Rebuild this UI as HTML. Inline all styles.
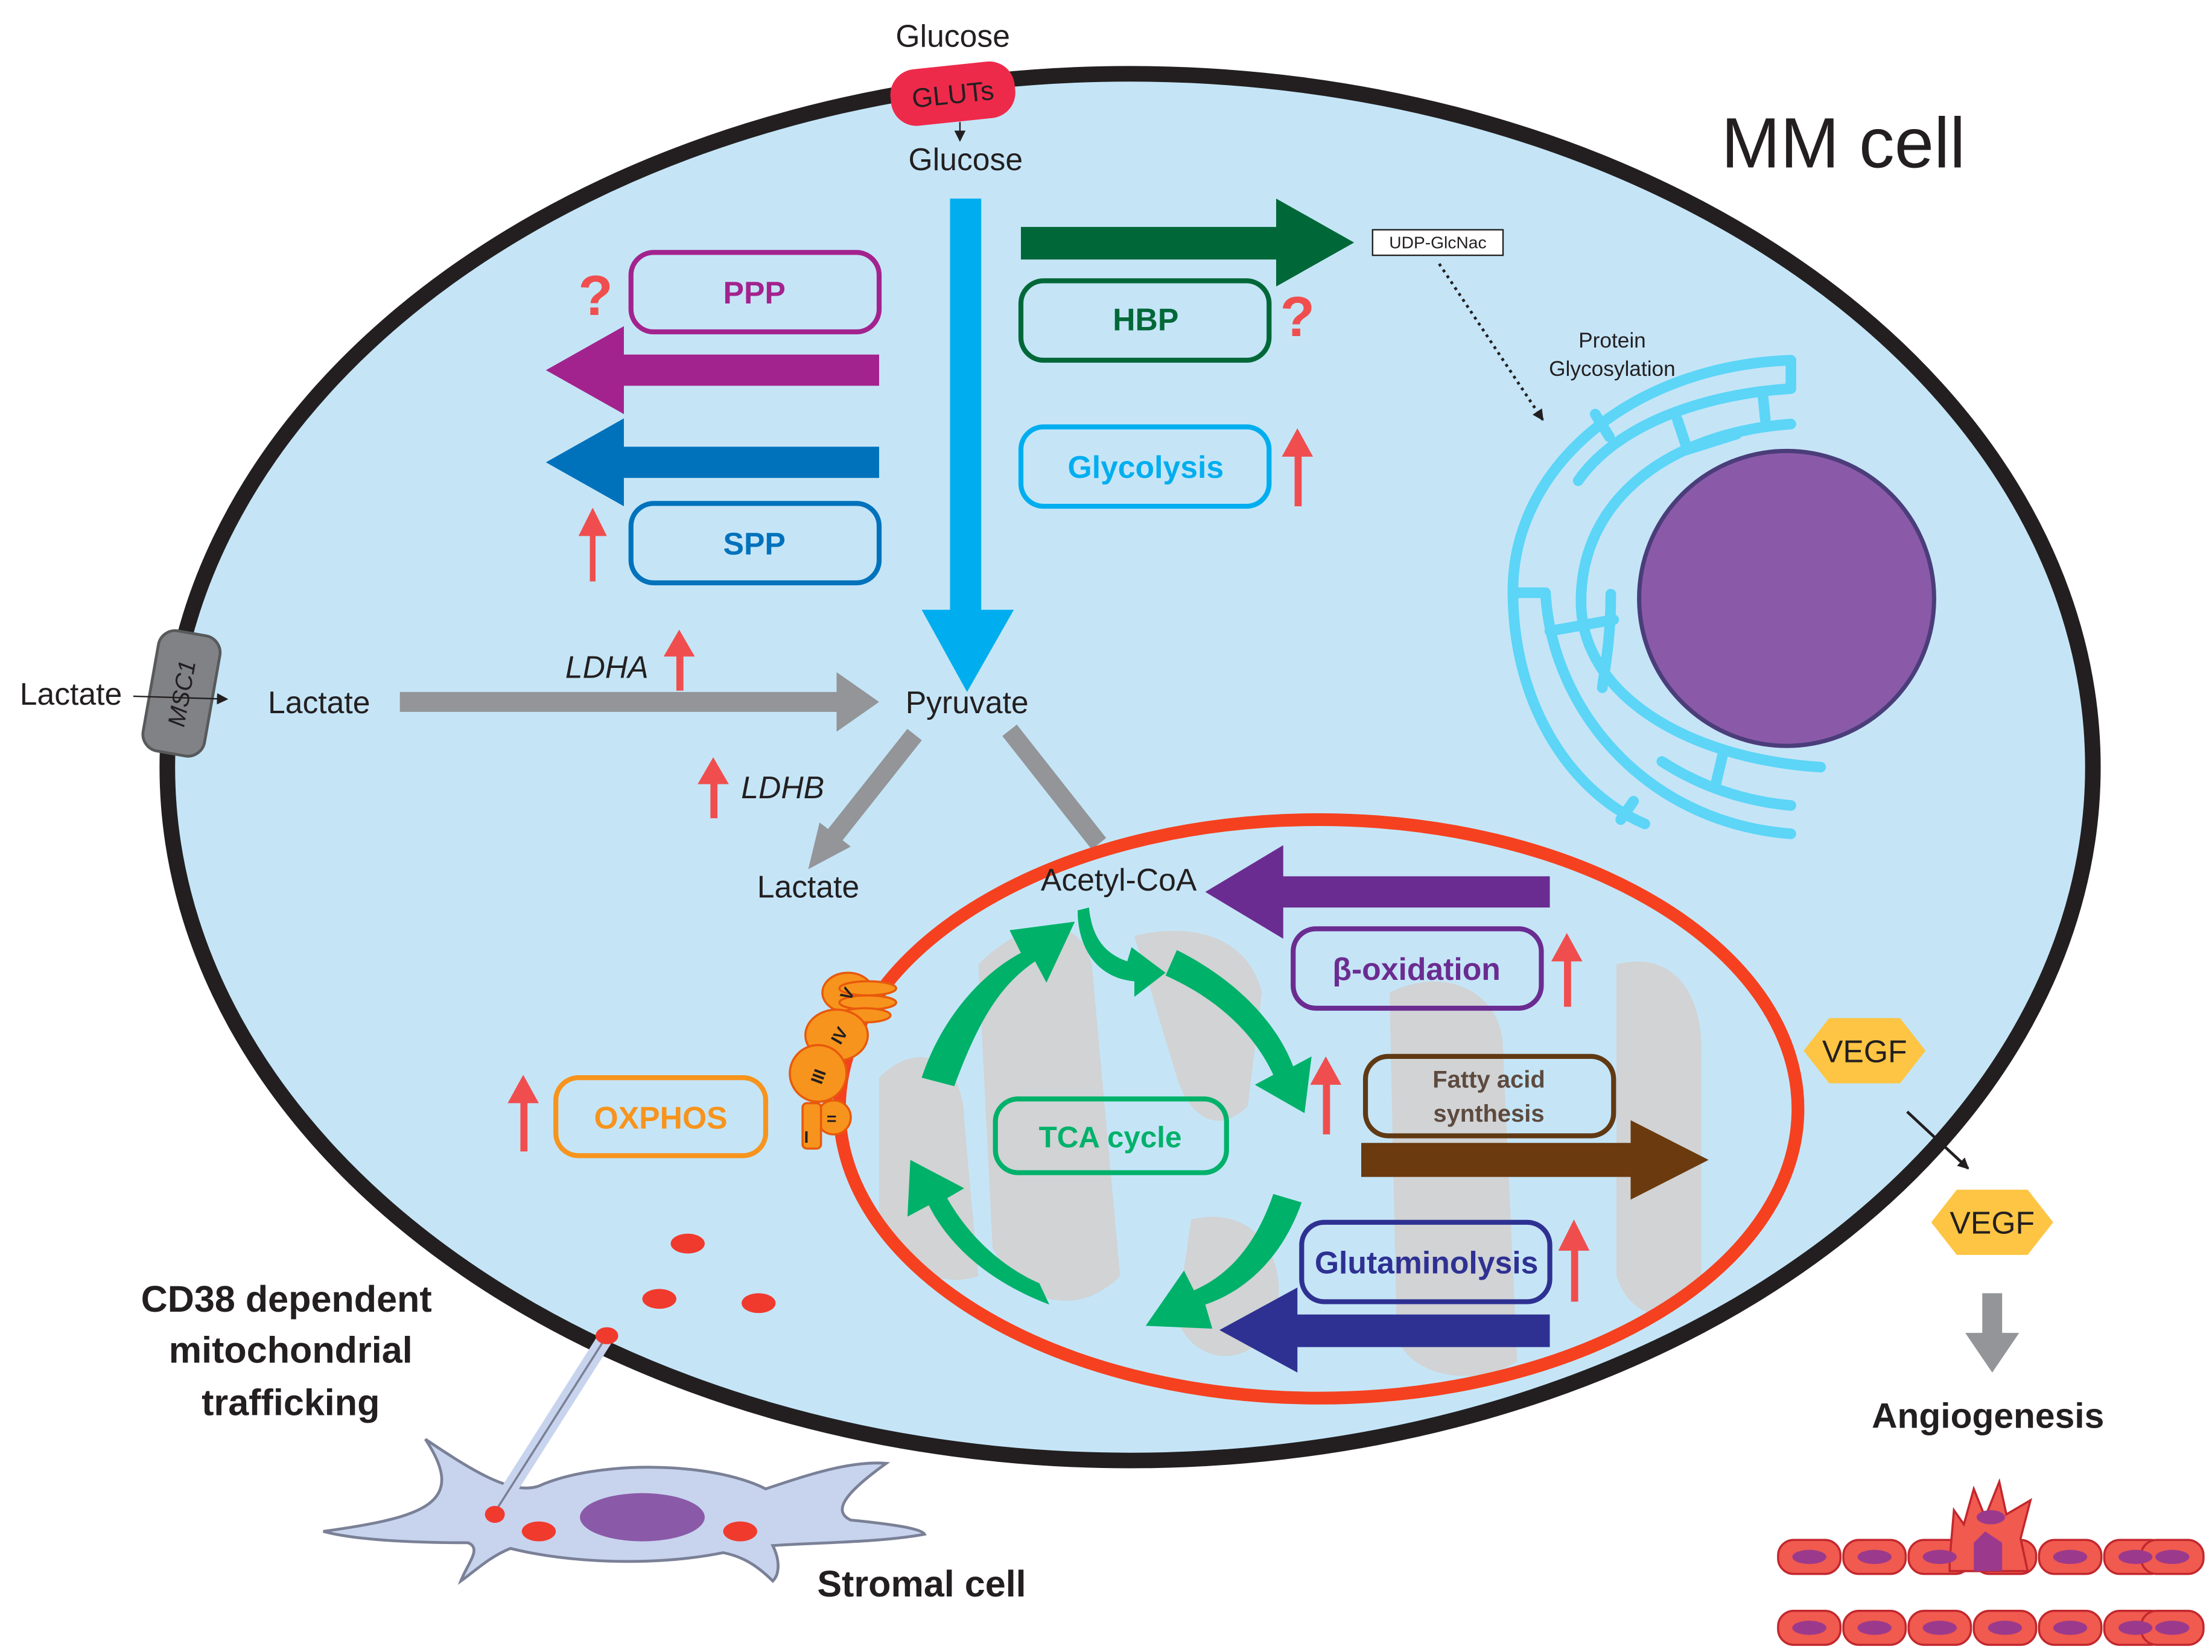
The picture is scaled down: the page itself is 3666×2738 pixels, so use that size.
<!DOCTYPE html>
<html><head><meta charset="utf-8"><style>
html,body{margin:0;padding:0;background:#fff;}
svg{display:block;}
text{font-family:"Liberation Sans",sans-serif;}
</style></head><body>
<svg width="3666" height="2738" viewBox="0 0 1560 1165" xmlns="http://www.w3.org/2000/svg">
<defs>
<marker id="ah" markerWidth="8" markerHeight="8" refX="7" refY="4" orient="auto" markerUnits="userSpaceOnUse"><path d="M0,0 L8,4 L0,8 Z" fill="#231f20"/></marker>
</defs>
<rect width="1560" height="1165" fill="#fff"/>
<ellipse cx="797" cy="541" rx="679" ry="489" fill="#c5e5f7" stroke="#231f20" stroke-width="11"/>
<text x="672" y="33" font-size="22" text-anchor="middle" fill="#231f20">Glucose</text>
<rect x="628" y="46" width="88" height="40" rx="18" fill="#ee2a4b" transform="rotate(-6 672 66)"/>
<text x="672" y="73" font-size="19" text-anchor="middle" fill="#231f20" transform="rotate(-6 672 66)">GLUTs</text>
<line x1="677" y1="86" x2="677" y2="99" stroke="#231f20" stroke-width="1" marker-end="url(#ah)"/>
<text x="681" y="120" font-size="22" text-anchor="middle" fill="#231f20">Glucose</text>
<text x="1300" y="118" font-size="50" text-anchor="middle" fill="#231f20">MM cell</text>
<path d="M670,140 L692,140 L692,430 L715,430 L682,488 L650,430 L670,430 Z" fill="#00aeef"/>
<rect x="445" y="178" width="175" height="56" rx="16" fill="none" stroke="#a3238e" stroke-width="3.5"/>
<text x="532" y="214" font-size="22" font-weight="bold" text-anchor="middle" fill="#a3238e">PPP</text>
<path d="M620,250 L620,272 L440,272 L440,292 L385,261 L440,230 L440,250 Z" fill="#a3238e"/>
<path d="M620,315 L620,337 L440,337 L440,357 L385,326 L440,295 L440,315 Z" fill="#0072bc"/>
<rect x="445" y="355" width="175" height="56" rx="16" fill="none" stroke="#0072bc" stroke-width="3.5"/>
<text x="532" y="391" font-size="22" font-weight="bold" text-anchor="middle" fill="#0072bc">SPP</text>
<text x="420" y="222" font-size="40" font-weight="bold" text-anchor="middle" fill="#f04e4e">?</text>
<text x="915" y="237" font-size="40" font-weight="bold" text-anchor="middle" fill="#f04e4e">?</text>
<path d="M720,160 L900,160 L900,140 L955,171 L900,202 L900,183 L720,183 Z" fill="#006838"/>
<rect x="968" y="162" width="92" height="18" fill="#fff" stroke="#231f20" stroke-width="1"/>
<text x="1014" y="175" font-size="12" text-anchor="middle" fill="#231f20">UDP-GlcNac</text>
<rect x="720" y="198" width="175" height="56" rx="16" fill="none" stroke="#006838" stroke-width="3.5"/>
<text x="808" y="233" font-size="22" font-weight="bold" text-anchor="middle" fill="#006838">HBP</text>
<rect x="720" y="301" width="175" height="56" rx="16" fill="none" stroke="#00aeef" stroke-width="3.5"/>
<text x="808" y="337" font-size="22" font-weight="bold" text-anchor="middle" fill="#00aeef">Glycolysis</text>
<line x1="1015" y1="186" x2="1088" y2="296" stroke="#231f20" stroke-width="2" stroke-dasharray="2,3" marker-end="url(#ah)"/>
<text x="1137" y="245" font-size="15" text-anchor="middle" fill="#231f20">Protein</text>
<text x="1137" y="265" font-size="15" text-anchor="middle" fill="#231f20">Glycosylation</text>
<!-- ER -->
<g fill="none" stroke="#5cd5f7" stroke-width="7.5" stroke-linecap="round">
<path d="M1263,254 C1150,258 1065,330 1067,420 C1068,500 1110,560 1160,581"/>
<path d="M1263,254 L1263,274"/>
<path d="M1263,274 C1200,278 1140,300 1113,339"/>
<path d="M1263,299 C1180,305 1115,350 1115,424 C1115,490 1190,535 1284,541"/>
<path d="M1090,419 C1095,500 1160,580 1263,588"/>
<path d="M1136,419 C1136,450 1132,470 1130,485"/>
<path d="M1172,537 C1200,555 1230,565 1263,568"/>
<path d="M1067,418 L1090,418"/><path d="M1093,445 L1138,437"/><path d="M1125,292 L1135,308"/>
<path d="M1243,276 L1245,296"/><path d="M1183,296 L1190,317 L1225,306"/>
<path d="M1215,532 L1210,553"/><path d="M1152,565 L1143,578"/>
</g>
<circle cx="1260" cy="422" r="104" fill="#8a5aa8" stroke="#4b3d7a" stroke-width="3"/>
<text x="50" y="497" font-size="22" text-anchor="middle" fill="#231f20">Lactate</text>
<rect x="106" y="446" width="44" height="86" rx="12" fill="#808285" stroke="#58595b" stroke-width="2" transform="rotate(10 128 489)"/>
<text x="128" y="495" font-size="17" font-style="italic" text-anchor="middle" fill="#231f20" transform="rotate(-80 128 489)">MSC1</text>
<line x1="94" y1="491" x2="160" y2="493" stroke="#231f20" stroke-width="1" marker-end="url(#ah)"/>
<text x="225" y="503" font-size="22" text-anchor="middle" fill="#231f20">Lactate</text>
<path d="M282,488 L590,488 L590,474 L620,495 L590,516 L590,502 L282,502 Z" fill="#939598"/>
<text x="428" y="478" font-size="22" font-style="italic" text-anchor="middle" fill="#231f20">LDHA</text>
<text x="682" y="503" font-size="22" text-anchor="middle" fill="#231f20">Pyruvate</text>
<line x1="645" y1="518" x2="588" y2="590" stroke="#939598" stroke-width="13"/>
<path d="M570,613 L578,580 L600,597 Z" fill="#939598"/>
<line x1="712" y1="515" x2="775" y2="595" stroke="#939598" stroke-width="13"/>
<text x="552" y="563" font-size="22" font-style="italic" text-anchor="middle" fill="#231f20">LDHB</text>
<text x="570" y="633" font-size="22" text-anchor="middle" fill="#231f20">Lactate</text>
<ellipse cx="930" cy="782" rx="338" ry="204" fill="#c5e5f7"/>
<g fill="#d1d3d5">
<path d="M690,680 C720,650 760,640 770,680 L790,900 C760,930 720,920 700,880 Z"/>
<path d="M800,660 C840,650 880,660 890,700 L880,780 C860,800 840,790 830,760 Z"/>
<path d="M840,860 C880,850 910,880 900,930 C880,970 840,960 830,930 Z"/>
<path d="M1140,680 C1180,670 1200,700 1200,740 L1200,900 C1180,940 1150,930 1140,900 Z"/>
<path d="M980,700 C1020,680 1060,700 1060,740 L1070,960 C1040,980 990,970 985,940 Z"/>
<path d="M620,760 C650,730 680,750 680,790 L690,900 C660,910 630,890 620,860 Z"/>
</g>
<ellipse cx="930" cy="782" rx="338" ry="204" fill="none" stroke="#f5411f" stroke-width="9"/>
<text x="789" y="628" font-size="22" text-anchor="middle" fill="#231f20">Acetyl-CoA</text>
<path d="M1093,618 L1093,640 L905,640 L905,662 L850,629 L905,596 L905,618 Z" fill="#6b2c91"/>
<rect x="912" y="655" width="175" height="56" rx="16" fill="none" stroke="#6b2c91" stroke-width="3.5"/>
<text x="999" y="691" font-size="22" font-weight="bold" text-anchor="middle" fill="#6b2c91">β-oxidation</text>
<rect x="963" y="745" width="175" height="56" rx="16" fill="none" stroke="#603913" stroke-width="3.5"/>
<text x="1050" y="767" font-size="17" font-weight="bold" text-anchor="middle" fill="#5d4a3f">Fatty acid</text>
<text x="1050" y="791" font-size="17" font-weight="bold" text-anchor="middle" fill="#5d4a3f">synthesis</text>
<path d="M960,806 L1150,806 L1150,790 L1205,818 L1150,846 L1150,830 L960,830 Z" fill="#6b3a0e"/>
<rect x="918" y="862" width="175" height="56" rx="16" fill="none" stroke="#2e3192" stroke-width="3.5"/>
<text x="1006" y="898" font-size="22" font-weight="bold" text-anchor="middle" fill="#2e3192">Glutaminolysis</text>
<path d="M1093,927 L1093,950 L915,950 L915,968 L860,938 L915,908 L915,927 Z" fill="#2e3192"/>
<rect x="702" y="775" width="163" height="52" rx="16" fill="none" stroke="#00b16a" stroke-width="3.5"/>
<text x="783" y="809" font-size="21" font-weight="bold" text-anchor="middle" fill="#00b16a">TCA cycle</text>
<g fill="#00b16a">
<path d="M650,760 C665,715 695,685 720,672 L712,656 L758,650 L738,693 L730,678 C705,695 690,720 673,766 Z"/>
<path d="M830,670 C870,690 900,720 912,752 L925,745 L920,785 L885,765 L898,758 C885,730 860,705 822,688 Z"/>
<path d="M918,848 C905,885 880,910 850,920 L855,937 L808,935 L835,896 L842,910 C865,900 885,880 898,842 Z"/>
<path d="M740,920 C700,905 670,880 655,850 L640,858 L642,818 L680,838 L668,845 C685,875 710,895 733,905 Z"/>
<path d="M768,640 C770,660 778,672 795,678 L798,668 L822,686 L800,703 L800,692 C775,690 760,670 760,642 Z"/>
</g>
<rect x="392" y="760" width="148" height="55" rx="16" fill="none" stroke="#f7941d" stroke-width="3.5"/>
<text x="466" y="796" font-size="22" font-weight="bold" text-anchor="middle" fill="#f7941d">OXPHOS</text>
<g fill="#f7941d" stroke="#e8590c" stroke-width="1.5">
<ellipse cx="598" cy="700" rx="18" ry="14"/>
<ellipse cx="612" cy="697" rx="20" ry="5"/><ellipse cx="612" cy="707" rx="20" ry="5"/><ellipse cx="610" cy="716" rx="18" ry="5"/>
<ellipse cx="590" cy="730" rx="22" ry="18"/>
<ellipse cx="577" cy="757" rx="20" ry="20"/>
<ellipse cx="588" cy="788" rx="12" ry="12"/>
<rect x="566" y="778" width="13" height="32" rx="3"/>
</g>
<g font-size="12" fill="#231f20" font-weight="bold">
<text x="592" y="706" transform="rotate(-60 596 700)">V</text>
<text x="585" y="736" transform="rotate(-60 590 730)">IV</text>
<text x="570" y="762" transform="rotate(-70 577 757)">III</text>
<text x="583" y="793">=</text>
<text x="567" y="806">I</text>
</g>
<g fill="#f04e4e">
<path d="M416,410 L420,410 L420,378 L428,378 L418,358 L408,378 L416,378 Z"/>
<path d="M913,357 L918,357 L918,322 L926,322 L915,302 L904,322 L913,322 Z"/>
<path d="M477,487 L482,487 L482,463 L490,463 L479,444 L468,463 L477,463 Z"/>
<path d="M501,577 L506,577 L506,553 L514,553 L503,534 L492,553 L501,553 Z"/>
<path d="M367,812 L372,812 L372,778 L380,778 L369,758 L358,778 L367,778 Z"/>
<path d="M933,800 L938,800 L938,765 L946,765 L935,745 L924,765 L933,765 Z"/>
<path d="M1103,710 L1108,710 L1108,678 L1116,678 L1105,658 L1094,678 L1103,678 Z"/>
<path d="M1108,918 L1113,918 L1113,882 L1121,882 L1110,860 L1099,882 L1108,882 Z"/>
</g>
<path d="M1272,741 L1290,718 L1340,718 L1358,741 L1340,764 L1290,764 Z" fill="#fdc543"/>
<text x="1315" y="749" font-size="22" text-anchor="middle" fill="#231f20">VEGF</text>
<line x1="1345" y1="784" x2="1388" y2="824" stroke="#231f20" stroke-width="2" marker-end="url(#ah)"/>
<path d="M1362,862 L1380,839 L1430,839 L1448,862 L1430,885 L1380,885 Z" fill="#fdc543"/>
<text x="1405" y="870" font-size="22" text-anchor="middle" fill="#231f20">VEGF</text>
<path d="M1398,912 L1412,912 L1412,940 L1424,940 L1405,968 L1386,940 L1398,940 Z" fill="#939598"/>
<text x="1402" y="1007" font-size="25" font-weight="bold" text-anchor="middle" fill="#231f20">Angiogenesis</text>
<g fill="#f05a4f" stroke="#c2272d" stroke-width="1.5">
<rect x="1254" y="1086" width="44" height="24" rx="11"/><rect x="1300" y="1086" width="44" height="24" rx="11"/><rect x="1346" y="1086" width="44" height="24" rx="11"/><rect x="1392" y="1086" width="44" height="24" rx="11"/><rect x="1438" y="1086" width="44" height="24" rx="11"/><rect x="1484" y="1086" width="44" height="24" rx="11"/><rect x="1510" y="1086" width="44" height="24" rx="11"/>
<rect x="1254" y="1136" width="44" height="24" rx="11"/><rect x="1300" y="1136" width="44" height="24" rx="11"/><rect x="1346" y="1136" width="44" height="24" rx="11"/><rect x="1392" y="1136" width="44" height="24" rx="11"/><rect x="1438" y="1136" width="44" height="24" rx="11"/><rect x="1484" y="1136" width="44" height="24" rx="11"/><rect x="1510" y="1136" width="44" height="24" rx="11"/>
<path d="M1375,1100 L1378,1065 L1385,1075 L1392,1050 L1400,1070 L1410,1045 L1415,1068 L1432,1058 L1425,1085 L1430,1108 L1375,1108 Z"/>
</g>
<g fill="#9b3a8c">
<ellipse cx="1276" cy="1098" rx="12" ry="5"/><ellipse cx="1322" cy="1098" rx="12" ry="5"/><ellipse cx="1368" cy="1098" rx="12" ry="5"/><ellipse cx="1460" cy="1098" rx="12" ry="5"/><ellipse cx="1506" cy="1098" rx="12" ry="5"/><ellipse cx="1532" cy="1098" rx="12" ry="5"/>
<ellipse cx="1276" cy="1148" rx="12" ry="5"/><ellipse cx="1322" cy="1148" rx="12" ry="5"/><ellipse cx="1368" cy="1148" rx="12" ry="5"/><ellipse cx="1414" cy="1148" rx="12" ry="5"/><ellipse cx="1460" cy="1148" rx="12" ry="5"/><ellipse cx="1506" cy="1148" rx="12" ry="5"/><ellipse cx="1532" cy="1148" rx="12" ry="5"/>
<ellipse cx="1404" cy="1070" rx="10" ry="5"/><path d="M1392,1108 L1392,1088 L1400,1080 L1412,1088 L1412,1108 Z"/>
</g>
<g fill="#f03a2e"><ellipse cx="485" cy="877" rx="12" ry="7"/><ellipse cx="465" cy="916" rx="12" ry="7"/><ellipse cx="535" cy="919" rx="12" ry="7"/></g>
<text x="202" y="925" font-size="26" font-weight="bold" text-anchor="middle" fill="#231f20">CD38 dependent</text>
<text x="205" y="961" font-size="26" font-weight="bold" text-anchor="middle" fill="#231f20">mitochondrial</text>
<text x="205" y="998" font-size="26" font-weight="bold" text-anchor="middle" fill="#231f20">trafficking</text>
<path d="M228,1080 C300,1070 330,1060 300,1015 C330,1035 360,1055 380,1048 C420,1030 500,1030 540,1050 C570,1040 600,1030 625,1032 C600,1050 585,1065 600,1072 C630,1075 650,1078 652,1082 C620,1088 570,1088 545,1090 C550,1100 550,1110 545,1115 C535,1105 525,1098 510,1095 C460,1105 400,1102 360,1092 C345,1098 335,1108 325,1115 C330,1102 340,1092 330,1088 C290,1088 250,1086 228,1080 Z" fill="#c8d4ee" stroke="#7a8096" stroke-width="2"/>
<line x1="428" y1="942" x2="348" y2="1068" stroke="#c8d4ee" stroke-width="11"/>
<line x1="428" y1="942" x2="348" y2="1068" stroke="#7a8096" stroke-width="1.5"/>
<ellipse cx="428" cy="942" rx="8" ry="6" fill="#f03a2e"/>
<ellipse cx="349" cy="1068" rx="7" ry="6" fill="#f03a2e"/>
<ellipse cx="453" cy="1070" rx="44" ry="17" fill="#8a5aa8"/>
<ellipse cx="380" cy="1080" rx="12" ry="7" fill="#f03a2e"/><ellipse cx="522" cy="1080" rx="12" ry="7" fill="#f03a2e"/>
<text x="650" y="1126" font-size="26" font-weight="bold" text-anchor="middle" fill="#231f20">Stromal cell</text>
</svg>
</body></html>
